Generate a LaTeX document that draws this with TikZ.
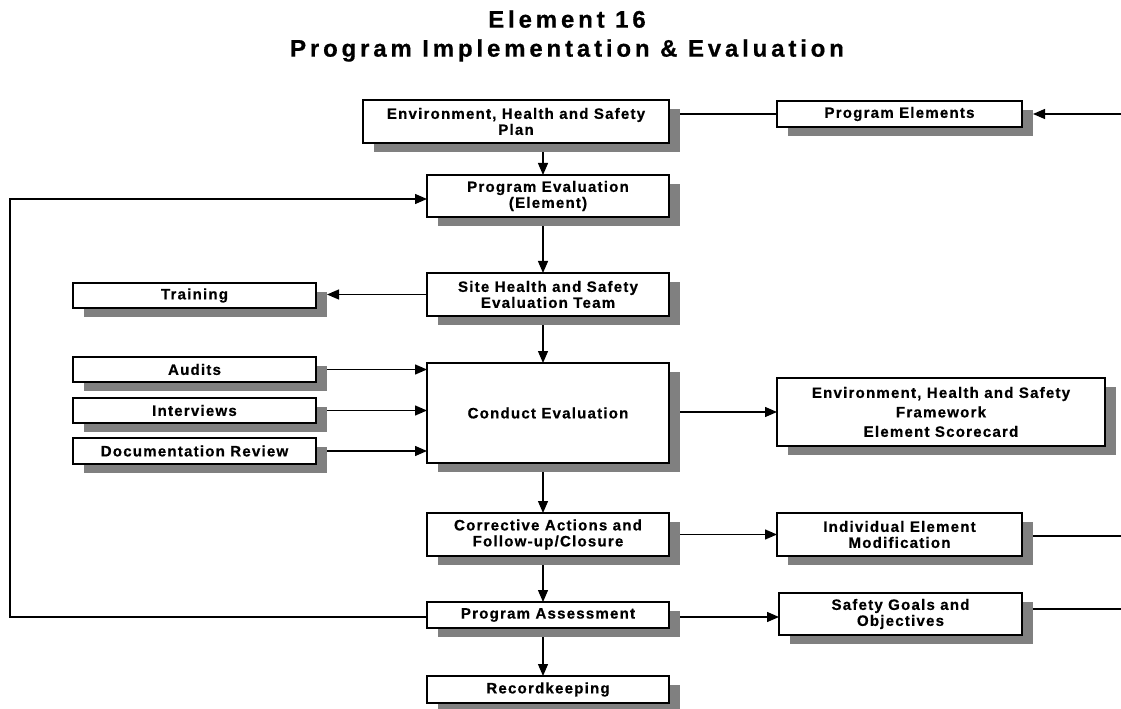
\documentclass[tikz,border=0pt]{standalone}
\usepackage{fontspec}
\setmainfont{Liberation Sans}
\newfontfamily\boxfont[LetterSpace=8,FakeBold=0.6]{Liberation Sans}
\newfontfamily\titlefont[LetterSpace=16,FakeBold=0.6]{Liberation Sans}
\usetikzlibrary{arrows.meta,shadows}
\definecolor{shadowgray}{HTML}{808080}
\pgfdeclarelayer{bg}
\pgfsetlayers{bg,main}

% flow box given by its corners (x1,y1) and (x2,y2), in pixel units
\newcommand\flowbox[6]{%
  \node[fbox, minimum width={(#4-#2)*0.75pt}, minimum height={(#5-#3)*0.75pt}]
    (#1) at ({(#2+#4)/2},{(#3+#5)/2}) {#6};}

\tikzset{
  fbox/.style={draw, line width=1.4pt, fill=white, inner sep=0pt, outer sep=0pt,
    align=center, font=\boxfont\bfseries\fontsize{11.3pt}{12pt}\selectfont,
    drop shadow={shadow xshift=8.25pt, shadow yshift=-6.75pt,
      fill=shadowgray, opacity=1}},
  conn/.style={line width=1pt},
  arr/.style={conn, -{Triangle[length=9pt,width=7.5pt]}},
  titletext/.style={font=\titlefont\bfseries\fontsize{18pt}{21.75pt}\selectfont,
    align=center, inner sep=0pt}
}

\begin{document}
\begin{tikzpicture}[x=0.75pt,y=-0.75pt]
\useasboundingbox (0,0) rectangle (1121,709);

% title
\node[titletext] (title) at (567,36) {Element 16\\Program Implementation \& Evaluation};

% main column
\flowbox{plan}{363}{100}{669}{143}{Environment, Health and Safety\\Plan}
\flowbox{peval}{427}{175}{669}{217}{Program Evaluation\\(Element)}
\flowbox{team}{427}{273}{669}{316}{Site Health and Safety\\Evaluation Team}
\flowbox{conduct}{427}{363}{669}{463}{Conduct Evaluation}
\flowbox{correct}{427}{513}{669}{556}{Corrective Actions and\\Follow-up/Closure}
\flowbox{assess}{427}{602}{669}{628}{Program Assessment}
\flowbox{records}{427}{676}{669}{703}{Recordkeeping}

% left column
\flowbox{train}{73}{283}{316}{308}{Training}
\flowbox{audits}{73}{357}{316}{382}{Audits}
\flowbox{interv}{73}{398}{316}{423}{Interviews}
\flowbox{docrev}{73}{438}{316}{464}{Documentation Review}

% right column
\flowbox{elems}{777}{101}{1022}{127}{Program Elements}
\node[fbox, minimum width={(1105-777)*0.75pt}, minimum height={(446-378)*0.75pt},
  font=\boxfont\bfseries\fontsize{11.3pt}{14.6pt}\selectfont]
  (score) at ({(777+1105)/2},{(378+446)/2})
  {Environment, Health and Safety\\Framework\\Element Scorecard};
\flowbox{modif}{777}{513}{1022}{556}{Individual Element\\Modification}
\flowbox{goals}{779}{593}{1022}{635}{Safety Goals and\\Objectives}

% helper coordinates
\coordinate (axis) at (543,0);
\coordinate (fbA) at (10,617);
\coordinate (fbB) at (10,199);
\coordinate (inElems) at (1121,114);
\coordinate (outModif) at (1121,536);
\coordinate (outGoals) at (1121,609);

\begin{pgfonlayer}{bg}
  % vertical flow
  \draw[arr] (axis |- plan.south) -- (axis |- peval.north);
  \draw[arr] (axis |- peval.south) -- (axis |- team.north);
  \draw[arr] (axis |- team.south) -- (axis |- conduct.north);
  \draw[arr] (axis |- conduct.south) -- (axis |- correct.north);
  \draw[arr] (axis |- correct.south) -- (axis |- assess.north);
  \draw[arr] (axis |- assess.south) -- (axis |- records.north);
  % plan and program elements
  \draw[conn] (plan.east |- elems.west) -- (elems.west);
  \draw[arr] (inElems) -- ([xshift=8.25pt]elems.east);
  % evaluation team to training
  \draw[arr] (team.west) -- ([xshift=8.25pt]train.east |- team.west);
  % inputs to the evaluation
  \draw[arr] (audits.east) -- (conduct.west |- audits.east);
  \draw[arr] (interv.east) -- (conduct.west |- interv.east);
  \draw[arr] (docrev.east) -- (conduct.west |- docrev.east);
  % outputs
  \draw[arr] (conduct.east |- score.west) -- (score.west);
  \draw[arr] (correct.east) -- (modif.west |- correct.east);
  \draw[arr] (fbA -| assess.east) -- (fbA -| goals.west);
  \draw[conn] (modif.east |- outModif) -- (outModif);
  \draw[conn] (goals.east |- outGoals) -- (outGoals);
  % feedback loop
  \draw[arr] (fbA -| assess.west) -- (fbA) -- (fbB) -- (fbB -| peval.west);
\end{pgfonlayer}
\end{tikzpicture}
\end{document}
